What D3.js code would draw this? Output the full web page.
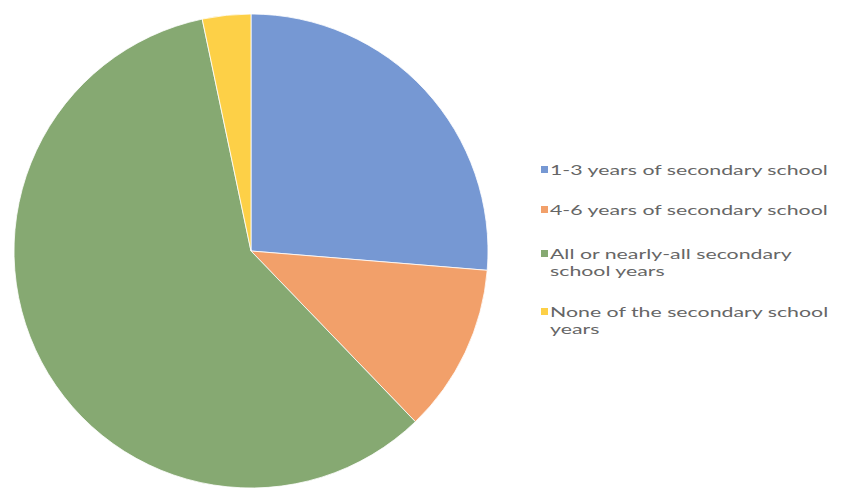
<!DOCTYPE html>
<html><head><meta charset="utf-8">
<script src="https://cdn.jsdelivr.net/npm/d3@7"></script>
<style>body{margin:0;background:#fff;}svg{display:block;}</style>
</head><body>
<svg id="c" width="843" height="491"></svg>
<script>
const categories = ["1-3 years of secondary school","4-6 years of secondary school","All or nearly-all secondary school years","None of the secondary school years"];
const legendLines = [["1-3 years of secondary school"],["4-6 years of secondary school"],["All or nearly-all secondary","school years"],["None of the secondary school","years"]];
const values = [26.3, 11.5, 58.9, 3.3];
const colors = ["#7698d3","#f2a06a","#86a972","#fdd047"];

const svg = d3.select("#c");
const cx = 251, cy = 251, r = 237;
const pie = d3.pie().sort(null).value(d=>d)(values);
const arc = d3.arc().innerRadius(0).outerRadius(r);
const g = svg.append("g").attr("transform",`translate(${cx},${cy})`);
g.selectAll("path").data(pie).enter().append("path")
  .attr("d",arc).attr("fill",(d,i)=>colors[i])
  .attr("stroke","#fff").attr("stroke-width",0.8);

const rows = [170, 210, 254, 312];
const fs = 14;
const lg = svg.append("g");
const tg = [];
legendLines.forEach((lines,i)=>{
  lg.append("rect").attr("x",541).attr("y",rows[i]-4).attr("width",7).attr("height",7).attr("fill",colors[i]);
  lines.forEach((t,j)=>{
    const gg = lg.append("g").attr("class","lt").attr("data-y", rows[i]+j*17);
    gg.append("text").attr("x",0).attr("y",0).attr("dy","0.35em")
      .attr("font-family","Lato, sans-serif").attr("font-size",fs)
      .attr("fill","#666").text(t);
  });
});
// stretch text horizontally so the first label spans ~278px like the reference
const w = lg.select("text").node().getComputedTextLength();
const sx = 278 / w;
lg.selectAll("g.lt").attr("transform", function(){
  return `translate(550,${this.getAttribute("data-y")}) scale(${sx},1)`;
});
</script>
</body></html>
